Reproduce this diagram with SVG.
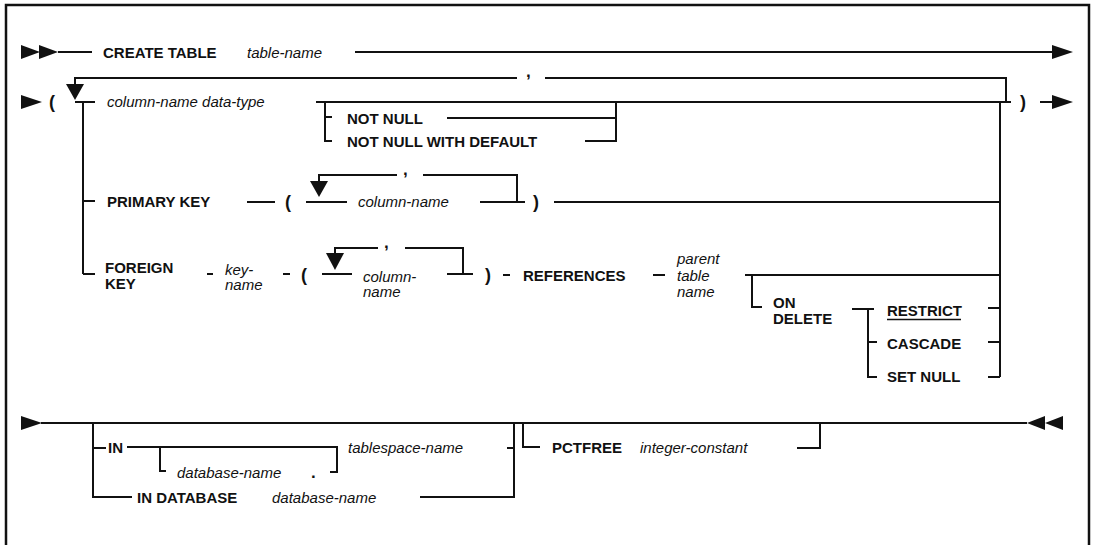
<svg xmlns="http://www.w3.org/2000/svg" width="1094" height="545" viewBox="0 0 1094 545">
<style>
.ln{fill:none;stroke:#111;stroke-width:2}
.ah{fill:#111;stroke:none}
text{font-family:"Liberation Sans",Arial,sans-serif;font-size:15px;fill:#111}
.b{font-weight:bold}
.i{font-style:italic}
.p{font-weight:bold;font-size:18px}
.c{font-weight:bold;font-size:17px}
</style>
<rect width="1094" height="545" fill="#fff"/>
<path class="ln" d="M6,545V5H1089V545" style="stroke-width:2.5"/>
<g id="connectors">
  <path class="ln" d="M58,52H92M355,52H1053"/>
  <polygon class="ah" points="21,45 21,59 40,52"/>
  <polygon class="ah" points="39,45 39,59 58,52"/>
  <polygon class="ah" points="1052,45 1052,59 1073,52"/>
  <path class="ln" d="M75,102H95M83,102V274M83,201H95M83,274H95M75,84V78H517M545,78H1006V102M316,102H1011M1040,102H1052"/>
  <polygon class="ah" points="21,95 21,109 42,102"/>
  <polygon class="ah" points="66,84 84,84 75,100"/>
  <polygon class="ah" points="1052,95 1052,109 1073,102"/>
  <path class="ln" d="M325,102V141H332M325,117H332M447,118H616M585,141H616V102M1000,102V377"/>
  <path class="ln" d="M247,202H275M306,202H347M480,202H525M554,202H1000M319,181V175H397M423,175H517V202"/>
  <polygon class="ah" points="310,181 328,181 319,197"/>
  <path class="ln" d="M207,274H213M283,274H290M322,274H352M447,274H473M335,253V248H378M405,248H463V274M503,275H510M653,275H665M745,275H1000M752,275V307H762"/>
  <polygon class="ah" points="326,253 344,253 335,270"/>
  <path class="ln" d="M852,309H874M868,309V377H877M868,342H877M988,308H1000M988,342H1000M988,377H1000"/>
  <path class="ln" d="M41,423H1027M93,423V497H132M93,448H106M127,447H337V472H330M160,447V471H166M507,448H514M514,423V497H420M523,423V447H540M797,448H820V423"/>
  <polygon class="ah" points="21,416 21,430 42,423"/>
  <polygon class="ah" points="1027,423 1045,416 1045,430"/>
  <polygon class="ah" points="1045,423 1063,416 1063,430"/>
</g>
<g id="n-create-table"><text class="b" x="103" y="58">CREATE TABLE</text></g>
<g id="n-table-name"><text class="i" x="247" y="58">table-name</text></g>
<g id="n-lparen1"><text class="p" x="49" y="108">(</text></g>
<g id="n-comma1"><text class="c" x="526" y="77">,</text></g>
<g id="n-coldef"><text class="i" x="107" y="107">column-name data-type</text></g>
<g id="n-rparen1"><text class="p" x="1020" y="108">)</text></g>
<g id="n-notnull"><text class="b" x="347" y="124">NOT NULL</text></g>
<g id="n-notnull-default"><text class="b" x="347" y="147">NOT NULL WITH DEFAULT</text></g>
<g id="n-primary-key"><text class="b" x="107" y="207">PRIMARY KEY</text></g>
<g id="n-lparen2"><text class="p" x="285" y="208">(</text></g>
<g id="n-comma2"><text class="c" x="403" y="175">,</text></g>
<g id="n-pk-column"><text class="i" x="358" y="207">column-name</text></g>
<g id="n-rparen2"><text class="p" x="533" y="208">)</text></g>
<g id="n-foreign-key"><text class="b" x="105" y="273">FOREIGN</text><text class="b" x="105" y="289">KEY</text></g>
<g id="n-key-name"><text class="i" x="225" y="275">key-</text><text class="i" x="225" y="290">name</text></g>
<g id="n-lparen3"><text class="p" x="301" y="281">(</text></g>
<g id="n-comma3"><text class="c" x="384" y="248">,</text></g>
<g id="n-fk-column"><text class="i" x="363" y="282">column-</text><text class="i" x="363" y="297">name</text></g>
<g id="n-rparen3"><text class="p" x="485" y="281">)</text></g>
<g id="n-references"><text class="b" x="523" y="281">REFERENCES</text></g>
<g id="n-parent-table"><text class="i" x="677" y="264">parent</text><text class="i" x="677" y="281">table</text><text class="i" x="677" y="297">name</text></g>
<g id="n-on-delete"><text class="b" x="773" y="308">ON</text><text class="b" x="773" y="324">DELETE</text></g>
<g id="n-restrict"><text class="b" x="887" y="316">RESTRICT</text><path class="ln" d="M887,319.5H961" style="stroke-width:1.5"/></g>
<g id="n-cascade"><text class="b" x="887" y="349">CASCADE</text></g>
<g id="n-setnull"><text class="b" x="887" y="382">SET NULL</text></g>
<g id="n-in"><text class="b" x="108" y="453">IN</text></g>
<g id="n-dbname1"><text class="i" x="177" y="478">database-name</text></g>
<g id="n-dot"><text class="c" x="311" y="478">.</text></g>
<g id="n-tablespace"><text class="i" x="348" y="453">tablespace-name</text></g>
<g id="n-in-database"><text class="b" x="137" y="503">IN DATABASE</text></g>
<g id="n-dbname2"><text class="i" x="272" y="503">database-name</text></g>
<g id="n-pctfree"><text class="b" x="552" y="453">PCTFREE</text></g>
<g id="n-integer"><text class="i" x="640" y="453">integer-constant</text></g>
</svg>
